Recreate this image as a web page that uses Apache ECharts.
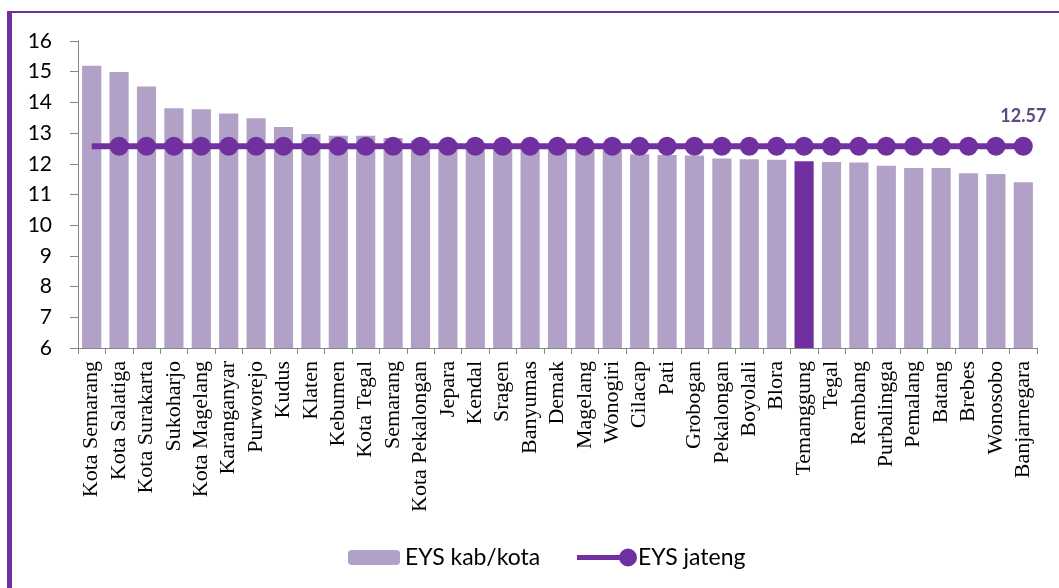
<!DOCTYPE html>
<html>
<head>
<meta charset="utf-8">
<script src="https://cdn.jsdelivr.net/npm/echarts@6/dist/echarts.min.js"></script>
<style>
  html, body { margin: 0; padding: 0; background: #fff; }
  #frame {
    position: absolute; left: 7px; top: 11px; width: 1100px; height: 620px;
    border-left: 5px solid #7030a0; border-top: 2px solid #7030a0;
  }
  #chart { position: absolute; left: 0; top: 0; width: 1059px; height: 588px; }
</style>
</head>
<body>
<div id="frame"></div>
<div id="chart"></div>
<script>
// kabupaten / kota
const categories = [
  'Kota Semarang', 'Kota Salatiga', 'Kota Surakarta', 'Sukoharjo', 'Kota Magelang',
  'Karanganyar', 'Purworejo', 'Kudus', 'Klaten', 'Kebumen', 'Kota Tegal', 'Semarang',
  'Kota Pekalongan', 'Jepara', 'Kendal', 'Sragen', 'Banyumas', 'Demak', 'Magelang',
  'Wonogiri', 'Cilacap', 'Pati', 'Grobogan', 'Pekalongan', 'Boyolali', 'Blora',
  'Temanggung', 'Tegal', 'Rembang', 'Purbalingga', 'Pemalang', 'Batang', 'Brebes',
  'Wonosobo', 'Banjarnegara'
]
// EYS kab/kota
const eysKab = [
  15.19, 14.99, 14.52, 13.81, 13.78, 13.64, 13.48, 13.2, 12.97, 12.91, 12.91, 12.84,
  12.77, 12.72, 12.68, 12.64, 12.6, 12.56, 12.52, 12.46, 12.31, 12.29, 12.27, 12.17,
  12.15, 12.13, 12.08, 12.06, 12.04, 11.94, 11.86, 11.86, 11.69, 11.67, 11.4
]
// EYS jateng (provinsi)
const eysJateng = [
  12.57, 12.57, 12.57, 12.57, 12.57, 12.57, 12.57, 12.57, 12.57, 12.57, 12.57, 12.57,
  12.57, 12.57, 12.57, 12.57, 12.57, 12.57, 12.57, 12.57, 12.57, 12.57, 12.57, 12.57,
  12.57, 12.57, 12.57, 12.57, 12.57, 12.57, 12.57, 12.57, 12.57, 12.57, 12.57
]
const yTicks = [6, 7, 8, 9, 10, 11, 12, 13, 14, 15, 16]
const highlight = 'Temanggung'

const chart = echarts.init(document.getElementById('chart'))
const last = eysJateng.length - 1

const option = {
  animation: false,
  grid: { left: 78, right: 22, top: 41, bottom: 240 },
  legend: [
    {
      data: ['EYS kab/kota'],
      left: 343,
      top: 541,
      itemWidth: 52,
      itemHeight: 15,
      itemGap: 5,
      textStyle: { fontFamily: 'Lato', fontSize: 23, color: '#000' }
    },
    {
      data: [{
        name: 'EYS jateng',
        icon: 'path://M0,6.5 L50,6.5 L50,11.5 L0,11.5 Z M51,0 A9,9 0 1,1 51,18 A9,9 0 1,1 51,0 Z'
      }],
      left: 572,
      top: 541,
      itemWidth: 60,
      itemHeight: 18,
      textStyle: { fontFamily: 'Lato', fontSize: 23, color: '#000', padding: [0, 0, 0, -4] }
    }
  ],
  xAxis: {
    type: 'category',
    data: categories,
    axisLine: { lineStyle: { color: '#868686', width: 1 } },
    axisTick: { show: true, length: 6, lineStyle: { color: '#868686' } },
    axisLabel: {
      rotate: 90,
      interval: 0,
      margin: 13,
      fontFamily: 'Liberation Serif',
      fontSize: 22,
      color: '#000'
    }
  },
  yAxis: {
    type: 'value',
    min: yTicks[0],
    max: yTicks[yTicks.length - 1],
    interval: 1,
    splitLine: { show: false },
    axisLine: { show: true, lineStyle: { color: '#868686', width: 1 } },
    axisTick: { show: true, length: 8, lineStyle: { color: '#868686' } },
    axisLabel: { margin: 26, fontFamily: 'Lato', fontSize: 21, color: '#000' }
  },
  series: [
    {
      type: 'bar',
      name: 'EYS kab/kota',
      barCategoryGap: '30%',
      itemStyle: { color: '#b1a1c7' },
      emphasis: { disabled: true },
      data: eysKab.map((v, i) => (categories[i] === highlight ? { value: v, itemStyle: { color: '#7030a0' } } : v))
    },
    {
      type: 'line',
      name: 'EYS jateng',
      symbol: 'circle',
      symbolSize: 19,
      itemStyle: { color: '#7030a0' },
      lineStyle: { color: '#7030a0', width: 6 },
      emphasis: { disabled: true },
      label: {
        show: false,
        position: 'top',
        distance: 12,
        fontFamily: 'Lato',
        fontWeight: 'bold',
        fontSize: 18,
        color: '#5f497a'
      },
      data: eysJateng.map((v, i) => {
        if (i === 0) return { value: v, symbol: 'none' }
        if (i === last) return { value: v, label: { show: true } }
        return v
      })
    }
  ]
}
chart.setOption(option)
</script>
</body>
</html>
